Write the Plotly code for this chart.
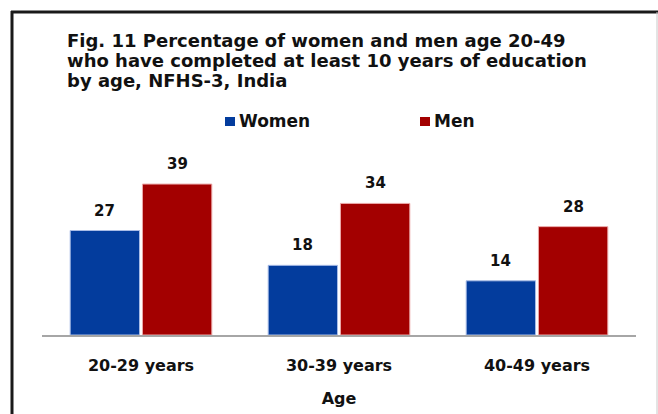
import plotly.graph_objects as go

# Data: share (%) who completed at least 10 years of education, by age group
age_groups = ["20-29 years", "30-39 years", "40-49 years"]
women = [27, 18, 14]
men = [39, 34, 28]

series_names = ["Women", "Men"]
series_colors = ["#033C9D", "#A30000"]
edge_colors = ["#A9BCE6", "#EBA9A9"]

title_lines = [
    "Fig. 11 Percentage of women and men age 20-49",
    "who have completed at least 10 years of education",
    "by age, NFHS-3, India",
]

FONT = "DejaVu Sans"
W, H = 658, 414
ML, MR, MT, MB = 42, 22, 145, 79
PW, PH = W - ML - MR, H - MT - MB


def px(x):
    """Horizontal pixel -> paper coordinate."""
    return (x - ML) / PW


def py(y):
    """Vertical pixel (from top) -> paper coordinate."""
    return (H - MB - y) / PH


fig = go.Figure()
for name, vals, col, edge in zip(series_names, [women, men], series_colors, edge_colors):
    fig.add_trace(go.Bar(
        x=age_groups, y=vals, name=name,
        marker=dict(color=col, line=dict(color=edge, width=1)),
        showlegend=False,
    ))

annotations = []

# Value labels above each bar
offsets = [-37, 36]
for vals, dx in zip([women, men], offsets):
    for cat, v in zip(age_groups, vals):
        annotations.append(dict(
            x=cat, y=v, xref="x", yref="y", text=f"<b>{v}</b>",
            showarrow=False, xshift=dx, yshift=20, yanchor="middle",
            font=dict(family=FONT, size=15, color="#111111"),
        ))

# Title, one annotation per line
for i, line in enumerate(title_lines):
    annotations.append(dict(
        x=px(65), y=py(40.5 + 20 * i), xref="paper", yref="paper",
        text=f"<b>{line}</b>", showarrow=False, xanchor="left", yanchor="middle",
        font=dict(family=FONT, size=18, color="#111111"),
    ))

# Legend: colour swatch followed by series name
shapes = []
legend_x = [225, 420]
for name, col, lx in zip(series_names, series_colors, legend_x):
    shapes.append(dict(
        type="rect", xref="paper", yref="paper",
        x0=px(lx), x1=px(lx + 10), y0=py(126), y1=py(117),
        fillcolor=col, line=dict(width=0),
    ))
    annotations.append(dict(
        x=px(lx + 12), y=py(121.5), xref="paper", yref="paper",
        text=f"<b>{name}</b>", showarrow=False, xanchor="left", yanchor="middle",
        font=dict(family=FONT, size=17, color="#111111"),
    ))

# Chart frame: dark top and left edges, light right edge
shapes += [
    dict(type="line", xref="paper", yref="paper", x0=px(11), x1=px(658), y0=py(12), y1=py(12),
         line=dict(color="#1a1a1a", width=3)),
    dict(type="line", xref="paper", yref="paper", x0=px(12), x1=px(12), y0=py(11), y1=py(420),
         line=dict(color="#1a1a1a", width=3)),
    dict(type="line", xref="paper", yref="paper", x0=px(657), x1=px(657), y0=py(12), y1=py(420),
         line=dict(color="#C8C8C8", width=1)),
]

fig.update_layout(
    width=W, height=H,
    margin=dict(l=ML, r=MR, t=MT, b=MB, pad=0),
    paper_bgcolor="white", plot_bgcolor="white",
    barmode="group", bargap=0.27, bargroupgap=0.04,
    annotations=annotations, shapes=shapes,
    xaxis=dict(
        automargin=False,
        showline=True, linecolor="#A6A6A6", linewidth=2,
        ticks="", showgrid=False, zeroline=False,
        tickfont=dict(family=FONT, size=16, color="#111111"),
        ticklabelstandoff=15,
        tickvals=age_groups, ticktext=[f"<b>{a}</b>" for a in age_groups],
        title=dict(text="<b>Age</b>", standoff=19,
                   font=dict(family=FONT, size=16, color="#111111")),
    ),
    yaxis=dict(visible=False, automargin=False, range=[0, PH / 3.87], fixedrange=True),
)

fig.write_html("out.html")
